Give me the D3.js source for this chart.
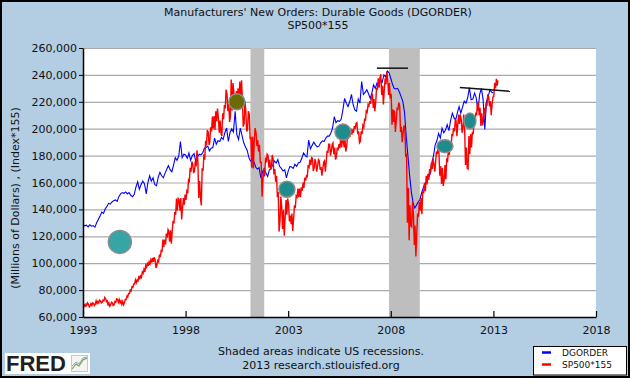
<!DOCTYPE html>
<html><head><meta charset="utf-8">
<script src="https://cdn.jsdelivr.net/npm/d3@7"></script>
<style>
body{margin:0;background:#fff;}
svg{display:block;font-family:"DejaVu Sans",Verdana,sans-serif;}
</style>
</head><body>
<svg id="chart" width="630" height="378"></svg>
<script>
// ---------------- DATA ----------------
const titleLines = ["Manufacturers' New Orders: Durable Goods (DGORDER)", "SP500*155"];
const yAxisTitle = "(Millions of Dollars) , (Index*155)";
const yTickValues = [60000,80000,100000,120000,140000,160000,180000,200000,220000,240000,260000];
const xTickYears = ["1993","1998","2003","2008","2013","2018"];
const footnotes = ["Shaded areas indicate US recessions.", "2013 research.stlouisfed.org"];
const legendLabels = ["DGORDER", "SP500*155"];
const recessionStarts = ["2001-03-01", "2007-12-01"];
const recessionEnds   = ["2001-11-01", "2009-06-01"];
const seriesStart = "1993-01-01"; // monthly observations from this month on

// DGORDER, monthly, millions of dollars (Jan 1993 ... Jan 2013)
const dgorder = [
128700,127800,128300,127000,128500,127500,128000,126800,130000,132500,135000,138000,
137000,140500,142000,144500,144000,145500,146500,147000,146000,149500,151500,152500,
152000,153000,151500,152500,150500,149500,151000,156500,160500,155000,158500,161000,
159000,151500,160000,165000,161000,163500,158500,157500,164000,167500,165000,163500,
167000,170000,172500,169500,168000,173000,178500,176500,179500,190500,178500,181000,
180500,178000,182000,176500,180000,181500,175500,179000,181000,180500,182000,185500,
186000,187000,183500,185500,186000,193000,188500,191000,190500,193500,192000,197000,
200500,190500,197000,200000,197500,213000,195500,192000,200500,195000,189500,186500,
184000,178500,176000,177000,175500,171500,170000,171000,163500,168000,170500,167000,
164500,169500,170500,173000,176000,174500,177000,172000,170500,168500,169500,163500,
168500,172000,171500,170500,173500,172000,174500,175000,178000,182000,180000,179000,
191500,185000,187500,190000,188000,186500,187000,189500,191000,190500,193000,194500,
194500,197000,200500,209000,204500,206000,205500,207000,214000,222500,219000,216500,
220000,225500,218000,214000,213000,222000,219000,235000,225500,227000,229000,226000,
222500,227000,232500,230000,234000,232000,236500,234500,240000,238500,243000,241500,
237500,233000,230000,229500,230000,227500,224000,220500,212500,195000,180000,165500,
153000,145000,141000,143000,145500,147000,152000,156000,159500,160500,164000,166000,
175000,180000,188000,191000,196500,193000,200500,197000,199000,203000,198500,206000,
211500,208000,206500,212000,216500,211500,216000,220500,219000,223000,230500,221500,
222000,226500,223000,213000,225500,230000,222000,199500,220500,224000,229000,227000,
226500
];

// SP500*155, monthly [low, high] of the daily trace (Jan 1993 ... Mar 2013)
const sp500x155 = [
[67000,69000],[68000,69500],[68500,70500],[67500,69500],[68500,70000],[68500,70500],[68500,70000],[69500,72000],[70000,71500],[70500,72500],[70500,72000],[71000,72500],
[72000,74500],[71500,73500],[68500,72000],[68000,70500],[69000,71000],[68500,70500],[69000,71500],[71000,73500],[71000,73000],[70500,73000],[69500,72000],[69000,71500],
[70500,73000],[73000,75500],[75000,77500],[77500,80000],[79500,82500],[82000,84500],[84500,87500],[85500,87500],[87000,90500],[88000,90500],[89500,93500],[92500,95500],
[93500,98500],[97000,100500],[98000,101000],[99500,102500],[100500,104000],[101000,104500],[96500,102500],[98500,102000],[101000,106500],[104500,109500],[109000,117500],[112000,117500],
[114000,122000],[119000,125000],[116000,124000],[114500,124500],[124000,131500],[129500,138000],[136000,148000],[139000,148000],[139000,147000],[132500,148500],[141000,148500],[143500,151000],
[147000,153500],[152000,163000],[160000,171000],[168000,175500],[167500,174000],[168000,176000],[172000,184000],[148500,175500],[148500,161000],[143000,170500],[168500,181000],[177000,191000],
[187500,199000],[188000,197500],[190000,201000],[198000,209000],[200000,209500],[199000,213000],[205500,215000],[197000,207500],[196500,206000],[194500,211500],[207000,217500],[215000,229000],
[213000,226000],[205000,218500],[209000,236500],[213500,234000],[215000,228000],[219000,228000],[219000,230000],[220000,235000],[221000,236000],[201500,221500],[204000,220500],[198000,213000],
[199500,213000],[192000,210500],[171000,194000],[170500,194000],[192000,200500],[187000,197000],[183000,191500],[175000,188000],[149500,175000],[162000,170000],[164500,178500],[175000,181000],
[171000,180000],[169500,177000],[171000,180500],[166000,178000],[160500,170000],[149000,165000],[123500,153000],[131000,149500],[125500,142000],[120500,139500],[134000,147000],[136000,148000],
[131000,144000],[129000,135500],[124000,137000],[133500,143000],[141000,150000],[149000,155500],[149000,155500],[149000,156500],[154000,160000],[156000,163500],[161500,165000],[164500,173000],
[171500,177000],[173000,178500],[168500,178000],[171000,177500],[168000,174500],[172500,177000],[169500,176000],[165000,171500],[170000,175000],[168000,176000],[175500,183500],[182000,188500],
[180000,188500],[183500,188500],[181000,189500],[177000,186000],[179000,186000],[184000,188500],[185500,192500],[186000,192000],[186000,191000],[183000,192000],[187000,195000],[192500,196000],
[194000,200000],[195500,199500],[197000,202000],[200000,204000],[196000,204500],[189500,198000],[190500,198000],[196000,202500],[201000,207500],[206000,214000],[212500,218000],[217000,220500],
[218500,224000],[215500,226000],[213000,222000],[219500,230500],[229000,237500],[230500,238000],[225000,240500],[218000,232000],[229000,237500],[233000,242500],[225000,236500],[222500,234000],
[203000,226000],[205000,214500],[197500,213500],[206000,215000],[214500,219500],[197500,217000],[190000,201500],[197000,202500],[179000,199500],[130000,181500],[117000,156000],[128000,143000],
[127000,145500],[113500,135500],[105000,128000],[122500,137000],[134500,145500],[139000,148500],[136500,153500],[152000,159500],[153500,165000],[158500,166500],[162000,170000],[167000,174500],
[170000,178000],[168000,173500],[174000,183000],[181000,188500],[165000,181500],[159000,172000],[157500,171000],[162000,173000],[162500,178000],[175000,185500],[180500,189000],[183500,195500],
[195000,200500],[198000,206500],[194500,206000],[203000,210500],[203500,210500],[197000,207000],[200000,210500],[173000,200000],[170500,186000],[170000,194500],[181000,196000],[186000,197000],
[196500,204500],[204000,212000],[210000,219500],[210000,219000],[202000,215500],[202500,211500],[206000,215500],[211000,219000],[217000,225500],[216500,224000],[210000,220500],[218000,223500],
[224000,234000],[230000,237000],[232000,236000]
];

// Annotations drawn on the chart (circles and black reference lines)
const markerDates  = ["1994-10-19","2000-07-01","2002-12-10","2005-09-02","2010-08-22","2011-11-10"];
const markerValues = [115800, 220000, 155000, 197500, 187000, 205700];
const trendStartDates  = ["2007-05-01","2011-05-15"];
const trendStartValues = [245000, 230600];
const trendEndDates    = ["2008-11-02","2013-10-23"];
const trendEndValues   = [245000, 227800];

// ---------------- DRAWING ----------------
const W = 630, H = 378;
const M = {left: 83, right: 596, top: 48, bottom: 317};
const parse = d3.timeParse("%Y-%m-%d");
const svg = d3.select("#chart");

const x = d3.scaleTime()
  .domain([parse(xTickYears[0] + "-01-01"), parse(xTickYears[xTickYears.length-1] + "-01-01")])
  .range([M.left, M.right]);
const y = d3.scaleLinear()
  .domain([yTickValues[0], yTickValues[yTickValues.length-1]])
  .range([M.bottom, M.top]);

const start = parse(seriesStart);
const monthDate = (i, day) => new Date(start.getFullYear(), start.getMonth() + i, day);

// background
svg.append("rect").attr("x",0).attr("y",0).attr("width",W).attr("height",H).attr("fill","#B3CDE3");
svg.append("rect").attr("x",1).attr("y",1).attr("width",W-2).attr("height",H-2)
  .attr("fill","none").attr("stroke","#000").attr("stroke-width",2);

// plot area
svg.append("rect").attr("x",M.left).attr("y",M.top)
  .attr("width",M.right-M.left).attr("height",M.bottom-M.top).attr("fill","#fff");

// gridlines
const grid = svg.append("g").attr("transform",`translate(${M.left},0)`)
  .call(d3.axisLeft(y).tickValues(yTickValues).tickSize(-(M.right-M.left)).tickFormat(""));
grid.select(".domain").remove();
grid.selectAll("line").attr("stroke","#AAAAAA").attr("stroke-width",1.2);

// recessions
svg.append("g").selectAll("rect").data(recessionStarts).join("rect")
  .attr("x", (d) => x(parse(d)))
  .attr("width", (d,i) => x(parse(recessionEnds[i])) - x(parse(d)))
  .attr("y", M.top).attr("height", M.bottom - M.top)
  .attr("fill","#BEBEBE");

const plot = svg.append("g");
// DGORDER
const blueLine = d3.line().x((d,i) => x(monthDate(i,1))).y(d => y(d));
plot.append("path").datum(dgorder).attr("d", blueLine)
  .attr("fill","none").attr("stroke","#0000FF").attr("stroke-width",1.1);

// SP500*155 as daily-like zigzag within each month
const redPts = [];
sp500x155.forEach((r,i) => {
  const mean = (r[0]+r[1])/2;
  const prev = i > 0 ? (sp500x155[i-1][0]+sp500x155[i-1][1])/2 : mean;
  const order = mean >= prev ? [r[0], r[1]] : [r[1], r[0]];
  redPts.push([monthDate(i, 8), order[0]]);
  redPts.push([monthDate(i, 23), order[1]]);
});
const redLine = d3.line().x(d => x(d[0])).y(d => y(d[1]));
plot.append("path").datum(redPts).attr("d", redLine)
  .attr("fill","none").attr("stroke","#FF0000").attr("stroke-width",1.4).attr("stroke-linejoin","miter");

// annotations: circles
const markerStyle = [
  {rx:11.5, ry:11.5, fill:"#35A5A5"},
  {rx:8, ry:8, fill:"#6B6B00"},
  {rx:8, ry:8, fill:"#1E8C8C"},
  {rx:8, ry:8, fill:"#1E8C8C"},
  {rx:8, ry:6.5, fill:"#1E8C8C"},
  {rx:6, ry:8, fill:"#1E8C8C"}
];
svg.append("g").selectAll("ellipse").data(markerDates).join("ellipse")
  .attr("cx", d => x(parse(d)))
  .attr("cy", (d,i) => y(markerValues[i]))
  .attr("rx", (d,i) => markerStyle[i].rx)
  .attr("ry", (d,i) => markerStyle[i].ry)
  .attr("fill", (d,i) => markerStyle[i].fill)
  .attr("stroke","#8C8C8C").attr("stroke-width",1.5);

// annotations: black reference lines
svg.append("g").selectAll("line").data(trendStartDates).join("line")
  .attr("x1", d => x(parse(d)))
  .attr("y1", (d,i) => y(trendStartValues[i]))
  .attr("x2", (d,i) => x(parse(trendEndDates[i])))
  .attr("y2", (d,i) => y(trendEndValues[i]))
  .attr("stroke","#111").attr("stroke-width",1.5);

// axes
const yAxis = svg.append("g").attr("transform",`translate(${M.left},0)`)
  .call(d3.axisLeft(y).tickValues(yTickValues).tickFormat(d3.format(",")).tickSizeInner(4).tickSizeOuter(0).tickPadding(2));
yAxis.select(".domain").attr("stroke","#000").attr("stroke-width",1.5);
yAxis.selectAll("text").attr("font-size",11).attr("fill","#111").attr("font-family","DejaVu Sans, Verdana, sans-serif");

const xAxis = svg.append("g").attr("transform",`translate(0,${M.bottom})`)
  .call(d3.axisBottom(x).tickValues(xTickYears.map(s => parse(s + "-01-01")))
    .tickFormat(d3.timeFormat("%Y")).tickSizeInner(-6).tickSizeOuter(0).tickPadding(9));
xAxis.select(".domain").attr("stroke","#000").attr("stroke-width",1.5);
xAxis.selectAll("line").attr("stroke","#000").attr("stroke-width",1.2);
xAxis.selectAll("text").attr("font-size",11).attr("fill","#111").attr("font-family","DejaVu Sans, Verdana, sans-serif");

// titles
svg.append("g").selectAll("text").data(titleLines).join("text")
  .attr("x", 318).attr("y", (d,i) => 15.5 + i*13.5)
  .attr("text-anchor","middle").attr("font-size",11).attr("fill","#111").text(d => d);

svg.append("text").attr("transform","translate(19,198) rotate(-90)")
  .attr("text-anchor","middle").attr("font-size",11).attr("fill","#111").text(yAxisTitle);

svg.append("g").selectAll("text").data(footnotes).join("text")
  .attr("x", 321).attr("y", (d,i) => 355 + i*14)
  .attr("text-anchor","middle").attr("font-size",11).attr("fill","#111").text(d => d);

// legend
const lg = svg.append("g");
lg.append("rect").attr("x",533.5).attr("y",346.5).attr("width",93).attr("height",28.5)
  .attr("fill","#fff").attr("stroke","#000").attr("stroke-width",1);
const legendColors = ["#0000FF","#FF0000"];
legendLabels.forEach((lab,i) => {
  lg.append("line").attr("x1",542).attr("x2",551).attr("y1",352.5+i*12).attr("y2",352.5+i*12)
    .attr("stroke",legendColors[i]).attr("stroke-width",2.5);
  lg.append("text").attr("x",562).attr("y",356+i*12).attr("font-size",9).attr("fill","#111").text(lab);
});

// FRED logo
const logo = svg.append("g");
logo.append("rect").attr("x",5).attr("y",353).attr("width",85).attr("height",21).attr("fill","#fff");
logo.append("text").attr("x",6).attr("y",371).attr("font-family","Liberation Sans, Arial, sans-serif")
  .attr("font-weight","bold").attr("font-size",22).attr("fill","#231F20").text("FRED");
logo.append("rect").attr("x",71.5).attr("y",355.5).attr("width",16).attr("height",16)
  .attr("fill","#f4f4f4").attr("stroke","#c8c8c8");
logo.append("path").attr("d","M72,369 L76,364 L79,366 L83,360 L87,358").attr("fill","none").attr("stroke","#7FA04A").attr("stroke-width",1.2);
logo.append("path").attr("d","M72,366 L76,362 L79,364 L83,358 L87,357").attr("fill","none").attr("stroke","#6F8FBF").attr("stroke-width",0.8);
</script>
</body></html>
